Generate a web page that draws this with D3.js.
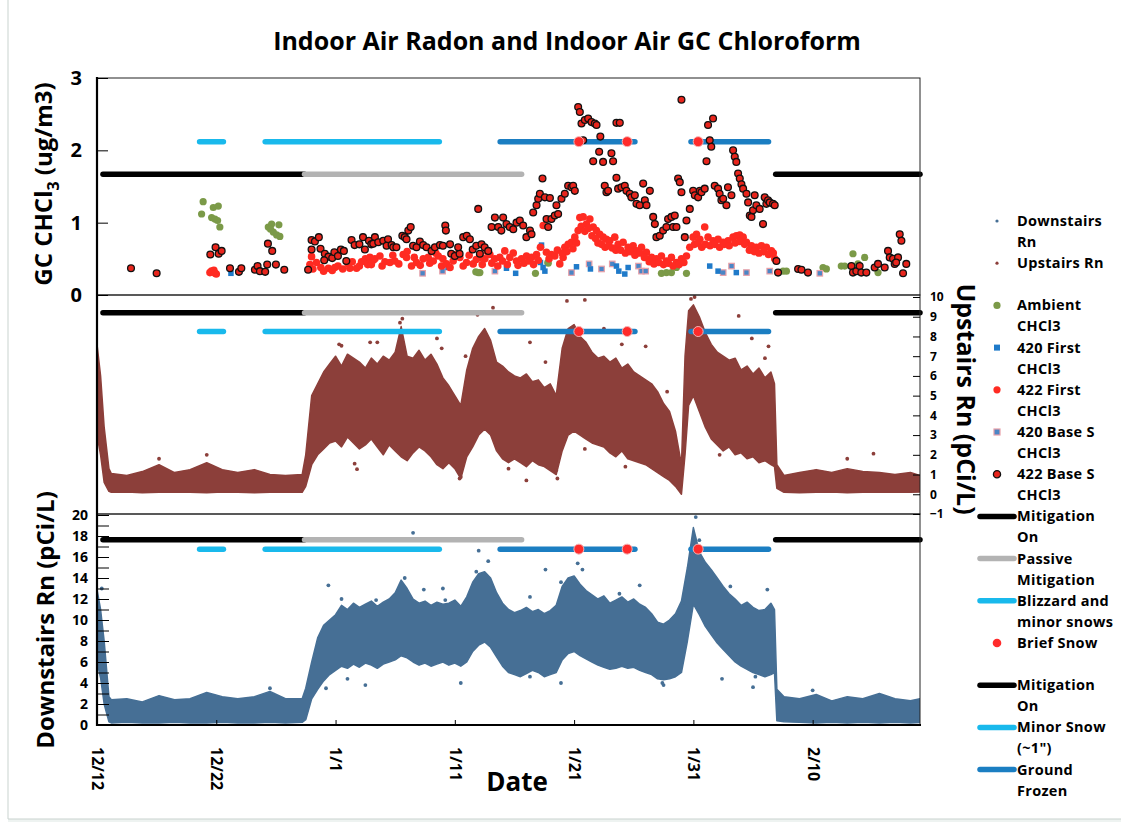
<!DOCTYPE html>
<html lang="en">
<head>
<meta charset="utf-8">
<title>Indoor Air Radon and Indoor Air GC Chloroform</title>
<style>
  body { margin: 0; background: #fff; }
  svg text { font-family: "Open Sans", Carlito, Calibri, Lato, sans-serif; font-weight: bold; fill: #000; }
  .axis path { display: none; }
  .axis line { stroke: #000; stroke-width: 1; }
</style>
</head>
<body>
<div id="chart"></div>
<script src="https://cdn.jsdelivr.net/npm/d3@7"></script>
<script>
var width = 1121, height = 822;

// ---- data: day offsets from 12/12 ----
var xTickDays = [0, 10, 20, 30, 40, 50, 60];

// radon clouds: [day, low, high] of the dense band (pCi/L)
var upstairsRn = [
  [0, 3.0, 7.6], [0.3, 2.0, 6.0], [0.6, 0.6, 3.4], [1.0, 0.15, 1.3], [1.2, 0.1, 1.05],
  [2.5, 0.12, 0.95], [3.8, 0.08, 1.15], [5.2, 0.1, 1.5], [6.5, 0.12, 1.1], [7.8, 0.1, 1.25],
  [9.2, 0.08, 1.6], [10.5, 0.12, 1.25], [11.8, 0.1, 1.1], [13.2, 0.08, 1.25], [14.5, 0.1, 1.0],
  [15.8, 0.12, 0.95], [17.2, 0.1, 1.0], [17.5, 0.4, 2.0], [18.0, 1.5, 5.0], [18.5, 2.0, 5.6],
  [19.0, 2.3, 6.2], [19.5, 2.6, 6.6], [20.0, 2.7, 7.0], [20.5, 2.4, 6.5], [21.0, 2.9, 7.1],
  [21.5, 2.6, 6.9], [22.0, 2.3, 6.7], [22.5, 2.5, 6.4], [23.0, 2.8, 6.9], [23.5, 2.4, 6.6],
  [24.0, 2.0, 7.0], [24.5, 2.5, 6.8], [25.0, 2.2, 7.2], [25.5, 1.9, 8.5], [26.0, 1.7, 7.0],
  [26.5, 2.1, 6.9], [27.0, 2.4, 7.3], [27.5, 2.2, 6.8], [28.0, 1.9, 7.1], [28.5, 1.5, 6.6],
  [29.0, 1.3, 5.9], [29.5, 1.6, 5.5], [30.0, 1.3, 5.0], [30.5, 0.8, 4.5], [31.0, 1.9, 6.3],
  [31.5, 2.4, 7.4], [32.0, 3.0, 8.0], [32.5, 3.3, 8.4], [33.0, 3.0, 7.8], [33.5, 2.2, 6.7],
  [34.0, 1.8, 6.5], [34.5, 1.6, 6.2], [35.0, 1.8, 6.0], [35.5, 1.6, 5.9], [36.0, 1.4, 6.1],
  [36.5, 1.7, 5.7], [37.0, 1.5, 5.8], [37.5, 1.4, 5.4], [38.0, 1.2, 5.6], [38.5, 1.0, 5.0],
  [39.0, 2.2, 7.4], [39.5, 3.0, 8.4], [40.0, 3.2, 8.6], [40.5, 3.0, 8.0], [41.0, 2.8, 7.7],
  [41.5, 2.6, 7.2], [42.0, 2.5, 6.9], [42.5, 2.4, 7.0], [43.0, 2.1, 6.7], [43.5, 1.9, 6.9],
  [44.0, 2.2, 6.4], [44.5, 1.8, 6.6], [45.0, 1.7, 6.2], [45.5, 1.6, 6.0], [46.0, 1.5, 5.8],
  [46.5, 1.3, 5.6], [47.0, 1.1, 5.2], [47.5, 0.9, 4.6], [48.0, 0.7, 4.2], [48.5, 0.4, 3.2],
  [49.0, 0.0, 1.5], [49.3, 2.0, 7.0], [49.6, 4.5, 9.3], [50.0, 5.0, 9.6], [50.5, 4.2, 9.0],
  [51.0, 3.4, 8.2], [51.5, 2.8, 7.6], [52.0, 2.5, 7.2], [52.5, 2.2, 7.0], [53.0, 2.4, 6.8],
  [53.5, 2.0, 6.9], [54.0, 2.1, 6.3], [54.5, 1.8, 6.5], [55.0, 1.9, 6.1], [55.5, 1.6, 6.4],
  [56.0, 1.7, 5.9], [56.5, 1.5, 6.2], [56.8, 1.4, 5.6], [57.0, 0.3, 1.5], [57.6, 0.1, 0.95],
  [58.9, 0.08, 1.1], [60.3, 0.1, 1.25], [61.6, 0.12, 1.1], [62.9, 0.08, 1.3], [64.2, 0.1, 1.15],
  [65.6, 0.12, 1.1], [66.9, 0.1, 1.0], [68.2, 0.1, 1.1], [69.0, 0.12, 0.95]
];
var upstairsOut = [
  [33.2, 9.46], [31.9, 9.1], [39.4, 9.8], [40.9, 9.85], [18.2, 4.75], [21.8, 1.27], [30.4, 0.8],
  [38.6, 0.8], [53.8, 9.04], [62.9, 1.8], [65.1, 2.06], [5.2, 1.8], [9.2, 2.0], [25.6, 8.9],
  [50.1, 10.0], [20.3, 7.6], [23.5, 7.7], [44.0, 7.6], [56.0, 6.9], [28.5, 7.9], [36.0, 0.7],
  [20.5, 7.53], [19.2, 6.0], [22.9, 7.7], [25.4, 8.7], [28.9, 7.4], [30.9, 7.0], [36.3, 7.7],
  [37.6, 6.7], [42.5, 8.4], [46.0, 7.5], [47.8, 5.2], [54.9, 7.9], [56.3, 7.5], [21.6, 1.55],
  [30.5, 0.88], [34.5, 1.3], [38.5, 1.22], [40.9, 2.3], [44.3, 1.4], [52.2, 2.0], [49.8, 9.9]
];
var downstairsRn = [
  [0, 6.0, 12.9], [0.3, 4.5, 11.0], [0.6, 2.0, 8.0], [1.0, 0.3, 2.7], [1.2, 0.2, 2.4],
  [2.5, 0.25, 2.5], [3.8, 0.2, 2.2], [5.2, 0.2, 2.8], [6.5, 0.25, 2.4], [7.8, 0.2, 2.5],
  [9.2, 0.2, 3.1], [10.5, 0.25, 2.7], [11.8, 0.2, 2.5], [13.2, 0.2, 2.7], [14.5, 0.25, 3.2],
  [15.8, 0.2, 2.5], [17.2, 0.25, 2.5], [17.5, 0.5, 3.5], [18.0, 2.5, 6.0], [18.5, 3.4, 8.3],
  [19.0, 4.2, 9.5], [19.5, 4.8, 10.0], [20.0, 5.2, 10.5], [20.5, 5.6, 11.4], [21.0, 5.4, 11.0],
  [21.5, 5.8, 11.6], [22.0, 5.5, 11.2], [22.5, 5.9, 11.5], [23.0, 5.7, 11.8], [23.5, 5.4, 11.3],
  [24.0, 5.8, 11.7], [24.5, 6.0, 12.0], [25.0, 6.2, 12.6], [25.5, 6.6, 13.8], [26.0, 6.4, 13.0],
  [26.5, 6.0, 12.0], [27.0, 5.7, 11.6], [27.5, 5.9, 11.8], [28.0, 5.6, 11.4], [28.5, 5.8, 11.7],
  [29.0, 6.0, 11.5], [29.5, 5.7, 11.6], [30.0, 5.9, 11.9], [30.5, 5.6, 11.3], [31.0, 6.0, 12.2],
  [31.5, 7.0, 13.6], [32.0, 7.6, 14.4], [32.5, 7.9, 14.6], [33.0, 7.4, 14.0], [33.5, 6.5, 12.6],
  [34.0, 5.6, 11.6], [34.5, 5.0, 11.0], [35.0, 4.8, 10.7], [35.5, 4.6, 10.9], [36.0, 4.9, 11.2],
  [36.5, 5.2, 10.8], [37.0, 5.0, 11.0], [37.5, 4.6, 10.6], [38.0, 4.8, 10.9], [38.5, 5.0, 11.4],
  [39.0, 6.2, 13.2], [39.5, 6.8, 14.0], [40.0, 7.0, 14.2], [40.5, 6.6, 13.4], [41.0, 6.3, 12.8],
  [41.5, 6.0, 12.4], [42.0, 5.7, 12.0], [42.5, 5.5, 12.3], [43.0, 5.3, 11.6], [43.5, 5.4, 11.9],
  [44.0, 5.6, 12.2], [44.5, 5.4, 11.7], [45.0, 5.5, 12.0], [45.5, 5.2, 11.5], [46.0, 5.0, 11.2],
  [46.5, 4.8, 10.6], [47.0, 4.4, 9.8], [47.5, 4.3, 9.6], [48.0, 4.4, 10.0], [48.5, 4.6, 10.6],
  [49.0, 5.0, 11.8], [49.5, 8.0, 15.0], [50.0, 11.5, 18.8], [50.5, 10.5, 16.5], [51.0, 9.4, 15.5],
  [51.5, 8.6, 14.8], [52.0, 7.8, 14.0], [52.5, 7.2, 13.2], [53.0, 6.6, 12.5], [53.5, 6.0, 12.0],
  [54.0, 5.6, 11.4], [54.5, 5.3, 11.7], [55.0, 5.0, 11.2], [55.5, 4.8, 10.9], [56.0, 4.6, 11.0],
  [56.5, 4.8, 11.6], [56.8, 5.0, 11.0], [57.0, 0.4, 3.4], [57.6, 0.3, 2.7], [58.9, 0.25, 2.5],
  [60.3, 0.2, 2.9], [61.6, 0.25, 2.3], [62.9, 0.2, 2.7], [64.2, 0.25, 2.5], [65.6, 0.2, 3.0],
  [66.9, 0.25, 2.5], [68.2, 0.2, 2.3], [69.0, 0.25, 2.5]
];
var downstairsOut = [
  [26.5, 18.3], [19.4, 13.3], [32.0, 16.6], [32.8, 15.6], [37.6, 14.8], [38.9, 4.0], [40.3, 15.4],
  [45.5, 13.3], [56.2, 12.9], [55.0, 3.6], [52.4, 4.4], [50.2, 19.8], [0.4, 13.0], [14.5, 3.5],
  [21.0, 4.4], [29.0, 13.0], [47.5, 3.8], [60.0, 3.3], [20.5, 12.0], [23.4, 11.9], [25.8, 14.0],
  [27.4, 12.9], [29.2, 11.9], [31.8, 14.6], [36.3, 12.2], [38.9, 13.6], [40.7, 14.8], [43.8, 12.5],
  [49.1, 11.6], [50.5, 17.6], [53.1, 13.2], [19.2, 3.5], [22.5, 3.8], [30.5, 4.0], [36.3, 4.6],
  [47.4, 4.0], [55.2, 4.6]
];

// GC chloroform (ug/m3): [day, value]
var ambient = [
  [8.9, 1.29], [8.77, 1.12], [9.61, 1.07], [9.89, 1.05], [10.11, 1.03], [10.3, 0.94], [9.75, 1.21],
  [10.17, 1.23], [14.36, 0.94], [14.64, 0.98], [15.25, 0.97], [14.78, 0.87], [15.06, 0.83],
  [15.33, 0.81], [14.55, 0.91], [31.76, 0.32], [31.96, 0.31], [36.76, 0.30], [37.8, 0.45],
  [32.1, 0.31], [37.83, 0.44], [47.32, 0.30], [47.74, 0.31], [48.16, 0.31], [48.58, 0.38],
  [49.42, 0.30], [57.52, 0.33], [57.8, 0.33], [60.87, 0.38], [61.15, 0.36], [62.4, 0.40],
  [62.69, 0.40], [63.38, 0.57], [63.8, 0.43], [64.36, 0.52], [65.48, 0.31]
];
var first420 = [
  [11.23, 0.30], [29.44, 0.38], [34.33, 0.37], [35.1, 0.30], [37.27, 0.69], [37.18, 0.45],
  [37.4, 0.38], [37.55, 0.33], [40.2, 0.39], [41.37, 0.36], [43.55, 0.40], [43.75, 0.33],
  [44.25, 0.29], [44.53, 0.38], [51.37, 0.40], [52.07, 0.33], [53.6, 0.31]
];
var first422 = [
  [9.47, 0.31], [9.6, 0.33], [9.8, 0.34], [10.0, 0.29], [9.9, 0.30],
  [17.99, 0.53], [17.85, 0.42], [18.1, 0.36], [18.4, 0.45], [18.77, 0.38], [19.0, 0.33], [19.4, 0.37],
  [19.72, 0.34], [19.94, 0.38], [20.2, 0.40], [20.6, 0.36], [21.06, 0.43], [21.2, 0.37], [21.4, 0.46],
  [21.76, 0.37], [22.0, 0.40], [22.18, 0.46], [22.5, 0.50], [22.7, 0.42], [22.88, 0.52], [23.16, 0.48],
  [23.3, 0.50], [23.72, 0.54], [24.14, 0.46], [24.56, 0.45], [24.97, 0.47], [25.67, 0.56], [25.95, 0.52],
  [26.37, 0.40], [26.79, 0.45], [27.35, 0.50], [27.77, 0.52], [28.19, 0.47], [28.61, 0.54], [28.89, 0.40],
  [29.3, 0.43], [29.86, 0.47], [30.42, 0.52], [30.98, 0.45], [31.54, 0.43], [32.1, 0.52], [32.52, 0.50],
  [32.94, 0.56], [33.35, 0.50], [33.77, 0.52], [34.19, 0.61], [34.61, 0.52], [35.17, 0.47], [35.59, 0.50],
  [36.01, 0.54], [36.43, 0.52], [36.85, 0.56], [37.18, 0.66], [37.41, 0.96], [37.68, 0.59], [38.1, 0.56],
  [38.38, 0.54], [38.8, 0.43], [39.08, 0.52], [39.22, 0.66], [39.5, 0.70], [39.78, 0.73], [40.06, 0.80],
  [40.34, 0.89], [40.48, 1.07], [40.76, 1.08], [41.04, 0.98], [41.32, 1.05], [41.6, 0.94], [41.87, 0.89],
  [42.15, 0.84], [42.43, 0.80], [42.71, 0.77], [42.99, 0.75], [43.41, 0.80], [43.69, 0.70], [44.11, 0.73],
  [44.53, 0.66], [44.95, 0.68], [45.23, 0.61], [45.65, 0.66], [46.06, 0.59], [46.49, 0.52], [46.9, 0.50],
  [47.32, 0.54], [47.74, 0.47], [48.16, 0.52], [48.58, 0.45], [49.0, 0.50], [49.42, 0.54], [49.7, 0.66],
  [49.98, 0.80], [50.26, 0.84], [50.54, 0.77], [50.95, 0.94], [51.23, 0.80], [51.65, 0.75], [52.07, 0.77],
  [52.49, 0.73], [52.91, 0.75], [53.33, 0.80], [53.61, 0.82], [53.89, 0.83], [54.17, 0.80], [54.45, 0.73],
  [54.87, 0.68], [55.28, 0.66], [55.7, 0.68], [56.12, 0.66], [56.54, 0.61], [56.82, 0.50],
  [23.0, 0.42], [23.9, 0.40], [24.8, 0.55], [25.3, 0.43], [26.0, 0.60], [26.6, 0.52], [27.1, 0.41],
  [27.9, 0.44], [28.4, 0.58], [29.0, 0.50], [29.6, 0.38], [30.1, 0.56], [30.7, 0.40], [31.2, 0.55],
  [31.8, 0.49], [32.3, 0.42], [32.7, 0.60], [33.1, 0.44], [33.6, 0.40], [34.0, 0.47], [34.4, 0.42],
  [34.9, 0.58], [35.3, 0.41], [35.8, 0.44], [36.2, 0.47], [36.6, 0.42], [37.0, 0.48], [37.9, 0.50],
  [38.6, 0.62], [39.0, 0.58], [39.4, 0.60], [39.9, 0.64], [40.2, 0.72], [40.6, 0.95], [40.9, 0.88],
  [41.2, 0.92], [41.5, 0.82], [41.8, 0.78], [42.0, 0.72], [42.3, 0.70], [42.6, 0.66], [42.9, 0.68],
  [43.2, 0.65], [43.5, 0.62], [43.9, 0.62], [44.3, 0.58], [44.7, 0.60], [45.1, 0.55], [45.5, 0.58],
  [45.9, 0.52], [46.3, 0.46], [46.7, 0.43], [47.1, 0.45], [47.5, 0.42], [47.9, 0.44], [48.3, 0.40],
  [48.8, 0.42], [49.2, 0.45], [50.1, 0.70], [50.4, 0.72], [50.7, 0.66], [51.0, 0.70], [51.4, 0.68],
  [51.8, 0.70], [52.2, 0.66], [52.6, 0.70], [53.0, 0.68], [53.5, 0.72], [53.9, 0.74], [54.3, 0.70],
  [54.7, 0.62], [55.1, 0.60], [55.5, 0.58], [55.9, 0.60], [56.3, 0.56], [56.7, 0.58]
];
var base420 = [
  [27.3, 0.30], [28.97, 0.33], [33.36, 0.33], [39.78, 0.31], [41.26, 0.43], [42.3, 0.36], [43.2, 0.43],
  [45.4, 0.40], [45.65, 0.33], [46.0, 0.33], [52.5, 0.31], [53.2, 0.40], [54.45, 0.31], [56.4, 0.33],
  [60.6, 0.30]
];
var base422 = [
  [2.85, 0.37], [5.0, 0.30], [9.5, 0.56], [9.94, 0.66], [10.2, 0.57], [10.45, 0.61], [11.15, 0.37],
  [11.9, 0.32], [12.1, 0.37], [13.24, 0.35], [13.46, 0.40], [13.66, 0.33], [14.1, 0.32], [14.27, 0.42],
  [14.33, 0.71], [14.69, 0.61], [15.0, 0.42], [15.7, 0.35], [17.7, 0.35], [17.99, 0.76], [18.27, 0.74],
  [18.6, 0.80], [17.99, 0.63], [18.74, 0.64], [19.1, 0.57], [19.4, 0.53], [19.05, 0.48], [19.72, 0.51],
  [19.9, 0.59], [20.2, 0.54], [20.45, 0.63], [20.7, 0.61], [20.9, 0.47], [21.34, 0.76], [21.6, 0.69],
  [22.0, 0.70], [22.3, 0.80], [22.46, 0.63], [22.8, 0.75], [23.0, 0.70], [23.3, 0.80], [23.16, 0.71],
  [23.58, 0.73], [24.0, 0.75], [24.4, 0.77], [24.28, 0.68], [24.7, 0.69], [24.84, 0.66], [25.1, 0.66],
  [25.6, 0.82], [25.8, 0.80], [26.1, 0.89], [26.3, 0.94], [25.95, 0.77], [26.5, 0.68], [26.79, 0.66],
  [27.07, 0.74], [27.35, 0.69], [27.63, 0.66], [28.05, 0.61], [28.33, 0.66], [28.75, 0.69], [29.0, 0.68],
  [29.2, 0.96], [29.25, 0.89], [29.6, 0.70], [29.7, 0.57], [30.0, 0.54], [30.4, 0.57], [30.28, 0.66],
  [30.7, 0.80], [31.0, 0.82], [31.26, 0.77], [31.5, 0.63], [31.8, 0.68], [31.96, 1.19], [32.1, 0.57],
  [32.24, 0.70], [32.5, 0.66], [32.8, 0.61], [33.08, 0.94], [33.36, 1.07], [33.64, 0.94], [33.9, 0.89],
  [34.05, 1.07], [34.33, 0.98], [34.6, 0.94], [34.9, 0.91], [35.17, 1.00], [35.45, 1.03], [35.73, 0.96],
  [36.0, 0.80], [36.3, 0.89], [36.43, 0.84], [36.57, 1.14], [36.85, 1.24], [36.99, 1.33], [37.13, 1.40],
  [37.35, 1.61], [37.55, 1.35], [37.97, 1.34], [37.69, 1.05], [37.83, 0.94], [38.1, 1.05], [38.38, 1.10],
  [38.52, 1.24], [38.66, 1.12], [38.94, 1.33], [39.22, 1.40], [39.5, 1.51], [39.78, 1.49], [39.92, 1.51],
  [40.06, 1.44], [40.34, 2.60], [40.48, 2.53], [40.62, 2.37], [40.9, 2.42], [41.18, 2.44], [41.46, 2.39],
  [41.74, 2.37], [41.88, 2.35], [43.55, 2.38], [43.83, 2.38], [40.76, 2.14], [42.2, 2.19], [42.1, 1.98],
  [41.6, 1.85], [42.43, 1.84], [43.13, 1.96], [43.27, 1.85], [43.55, 1.62], [42.57, 1.51], [42.71, 1.42],
  [42.85, 1.44], [43.69, 1.47], [43.97, 1.49], [44.25, 1.51], [44.39, 1.44], [44.67, 1.40], [44.8, 1.35],
  [45.09, 1.38], [45.23, 1.26], [45.5, 1.24], [45.79, 1.54], [45.93, 1.31], [46.07, 1.24], [46.35, 1.44],
  [46.63, 1.08], [46.77, 0.98], [46.9, 0.80], [47.18, 0.82], [47.46, 0.89], [47.74, 0.94], [47.88, 1.05],
  [48.16, 1.08], [48.44, 1.10], [48.3, 0.94], [48.58, 0.94], [48.72, 1.61], [48.86, 1.56], [49.0, 1.42],
  [49.28, 0.80], [49.42, 1.03], [49.7, 1.19], [49.0, 2.70], [49.98, 1.44], [50.12, 1.38], [50.4, 1.35],
  [50.54, 1.44], [50.68, 1.42], [50.95, 1.47], [51.23, 2.35], [51.37, 2.14], [51.5, 2.05], [51.65, 2.44],
  [51.1, 1.85], [51.79, 1.51], [52.07, 1.47], [52.2, 1.40], [52.35, 1.31], [52.5, 1.33], [52.77, 1.24],
  [52.9, 1.49], [53.19, 1.38], [53.33, 2.00], [53.47, 1.91], [53.6, 1.84], [53.75, 1.68], [53.89, 1.61],
  [54.03, 1.53], [54.17, 1.47], [54.45, 1.40], [54.59, 1.28], [54.73, 1.10], [54.87, 1.08], [55.0, 1.17],
  [55.14, 1.38], [55.28, 1.24], [55.56, 1.19], [55.84, 0.98], [55.98, 1.35], [56.12, 1.26], [56.26, 1.31],
  [56.4, 1.28], [56.68, 1.26], [56.82, 1.24], [56.96, 0.47], [57.1, 0.31], [58.78, 0.36], [59.06, 0.35],
  [59.61, 0.31], [63.25, 0.40], [63.38, 0.31], [63.66, 0.33], [63.94, 0.40], [64.08, 0.31], [64.5, 0.31],
  [65.2, 0.38], [65.48, 0.43], [66.04, 0.38], [66.32, 0.61], [66.46, 0.52], [66.74, 0.50], [66.88, 0.43],
  [67.16, 0.52], [67.3, 0.84], [67.44, 0.75], [67.58, 0.30], [67.85, 0.43], [67.0, 0.45]
];

// event periods: [start day, end day]
var mitigationOn = [[0.5, 17.4], [56.9, 69]];
var passiveMitigation = [[17.4, 35.6]];
var blizzardSnows = [[8.6, 10.6], [14.1, 28.7]];
var groundFrozen = [[33.8, 45.1], [49.8, 56.3]];
var briefSnow = [40.4, 44.45, 50.4];
// level (in each panel's units) where the event bars sit
var eventLevels = { top: [1.67, 2.12], mid: [9.2, 8.25], bot: [17.65, 16.75] };

// ---- scales ----
function dt(d) { return new Date(Date.UTC(2012, 11, 12) + d * 864e5); }
var x = d3.scaleUtc().domain([dt(0), dt(69)]).range([97, 920]);
var yTop = d3.scaleLinear().domain([0, 3]).range([295, 78]);
var yMid = d3.scaleLinear().domain([-1, 10]).range([514, 297]);
var yBot = d3.scaleLinear().domain([0, 20]).range([725, 515]);

var col = {
  down: "#466f95", up: "#8c3f3a", ambient: "#7b9a48", f420: "#1f7ac9",
  f422: "#ff2b22", b420: "#4a86c6", b422: "#e8251c", mit: "#000", passive: "#b3b3b3",
  bliz: "#19b9ec", frozen: "#1b7ec2", snow: "#ff2b2b"
};

var svg = d3.select("#chart").append("svg").attr("width", width).attr("height", height);

// page border
svg.append("rect").attr("x", 8).attr("y", 819).attr("width", width).attr("height", 10).attr("fill", "#eef3f1");
svg.append("line").attr("x1", 8).attr("x2", 8).attr("y1", 0).attr("y2", 819).attr("stroke", "#c9d3cf");
svg.append("line").attr("x1", 8).attr("x2", width).attr("y1", 819).attr("y2", 819).attr("stroke", "#c9d3cf");

var panels = [
  { id: "top", y0: 78, y1: 295 },
  { id: "mid", y0: 295, y1: 514 },
  { id: "bot", y0: 514, y1: 725 }
];
var defs = svg.append("defs");
panels.forEach(function(p) {
  defs.append("clipPath").attr("id", "clip-" + p.id).append("rect")
    .attr("x", 97).attr("y", p.y0).attr("width", 823).attr("height", p.y1 - p.y0);
});

function rnArea(y) {
  return d3.area().x(function(d) { return x(dt(d[0])); })
    .y0(function(d) { return y(d[1]); }).y1(function(d) { return y(d[2]); });
}
function dots(g, data, y, r, fill, stroke, sw) {
  g.selectAll(null).data(data).join("circle")
    .attr("cx", function(d) { return x(dt(d[0])); }).attr("cy", function(d) { return y(d[1]); })
    .attr("r", r).attr("fill", fill)
    .attr("stroke", stroke || "none").attr("stroke-width", sw || 0);
}
function squares(g, data, y, s, fill, stroke) {
  g.selectAll(null).data(data).join("rect")
    .attr("x", function(d) { return x(dt(d[0])) - s / 2; }).attr("y", function(d) { return y(d[1]) - s / 2; })
    .attr("width", s).attr("height", s).attr("fill", fill)
    .attr("stroke", stroke || "none").attr("stroke-width", stroke ? 1.2 : 0);
}
function events(g, y, lv) {
  function seg(arr, level, color) {
    g.selectAll(null).data(arr).join("line")
      .attr("x1", function(d) { return x(dt(d[0])); }).attr("x2", function(d) { return x(dt(d[1])); })
      .attr("y1", y(level)).attr("y2", y(level))
      .attr("stroke", color).attr("stroke-width", 5.5).attr("stroke-linecap", "round");
  }
  seg(mitigationOn, lv[0], col.mit);
  seg(passiveMitigation, lv[0], col.passive);
  seg(blizzardSnows, lv[1], col.bliz);
  seg(groundFrozen, lv[1], col.frozen);
}
function snowDots(g, y, lv) {
  g.selectAll(null).data(briefSnow).join("circle")
    .attr("cx", function(d) { return x(dt(d)); }).attr("cy", y(lv[1]))
    .attr("r", 5).attr("fill", col.snow).attr("stroke", "#f7b3b3").attr("stroke-width", 1);
}

// ---- top panel: GC chloroform ----
var gTop = svg.append("g");
events(gTop, yTop, eventLevels.top);
var gTopData = gTop.append("g").attr("clip-path", "url(#clip-top)");
dots(gTopData, ambient, yTop, 3.6, col.ambient);
squares(gTopData, base420, yTop, 5.5, col.b420, "#e8a0a8");
squares(gTopData, first420, yTop, 5.5, col.f420);
dots(gTopData, first422, yTop, 3.8, col.f422);
dots(gTopData, base422, yTop, 3.4, col.b422, "#111", 1.3);
snowDots(gTop, yTop, eventLevels.top);

// ---- middle panel: upstairs radon ----
var gMid = svg.append("g");
var gMidData = gMid.append("g").attr("clip-path", "url(#clip-mid)");
gMidData.append("path").datum(upstairsRn).attr("d", rnArea(yMid)).attr("fill", col.up)
  .attr("stroke", col.up).attr("stroke-width", 1.5).attr("stroke-linejoin", "round");
dots(gMidData, upstairsOut, yMid, 1.9, col.up);
events(gMid, yMid, eventLevels.mid);
snowDots(gMid, yMid, eventLevels.mid);

// ---- bottom panel: downstairs radon ----
var gBot = svg.append("g");
var gBotData = gBot.append("g").attr("clip-path", "url(#clip-bot)");
gBotData.append("path").datum(downstairsRn).attr("d", rnArea(yBot)).attr("fill", col.down)
  .attr("stroke", col.down).attr("stroke-width", 1.5).attr("stroke-linejoin", "round");
dots(gBotData, downstairsOut, yBot, 1.9, col.down);
events(gBot, yBot, eventLevels.bot);
snowDots(gBot, yBot, eventLevels.bot);

// ---- frames ----
panels.forEach(function(p) {
  svg.append("rect").attr("x", 97).attr("y", p.y0).attr("width", 823).attr("height", p.y1 - p.y0)
    .attr("fill", "none").attr("stroke", "#222").attr("stroke-width", 1);
});
svg.append("line").attr("x1", 97).attr("x2", 97).attr("y1", 77).attr("y2", 726)
  .attr("stroke", "#000").attr("stroke-width", 2.2);
svg.append("line").attr("x1", 96).attr("x2", 921).attr("y1", 725).attr("y2", 725)
  .attr("stroke", "#000").attr("stroke-width", 2);

// ---- axes ----
var axTop = svg.append("g").attr("class", "axis").attr("transform", "translate(97,0)")
  .call(d3.axisLeft(yTop).tickValues([0, 1, 2, 3]).tickSize(-11).tickPadding(15).tickFormat(d3.format("d")));
axTop.selectAll("text").style("font-size", "20px");

var axBot = svg.append("g").attr("class", "axis").attr("transform", "translate(97,0)")
  .call(d3.axisLeft(yBot).tickValues(d3.range(0, 21)).tickSize(-12).tickPadding(9)
    .tickFormat(function(d) { return d % 2 ? "" : d; }));
axBot.selectAll("text").style("font-size", "14px");

var axRight = svg.append("g").attr("class", "axis").attr("transform", "translate(920,0)")
  .call(d3.axisRight(yMid).tickValues(d3.range(-1, 11)).tickSize(-7).tickPadding(10).tickFormat(d3.format("d")));
axRight.selectAll("text").style("font-size", "12px");

var axX = svg.append("g").attr("class", "axis").attr("transform", "translate(0,725)")
  .call(d3.axisBottom(x).tickValues(xTickDays.map(dt)).tickSize(-5).tickFormat(d3.utcFormat("%-m/%-d")));
axX.selectAll("text").style("font-size", "16px")
  .attr("transform", "rotate(90)").attr("x", 22).attr("y", 0).attr("dy", "0.35em")
  .attr("text-anchor", "start");

// ---- titles ----
svg.append("text").attr("x", 567).attr("y", 50).attr("text-anchor", "middle")
  .style("font-size", "25px").text("Indoor Air Radon and Indoor Air GC Chloroform");

var tl = svg.append("text").attr("transform", "translate(42,184) rotate(-90)")
  .attr("text-anchor", "middle").attr("dominant-baseline", "central").style("font-size", "24px");
tl.append("tspan").text("GC CHCl");
tl.append("tspan").attr("baseline-shift", "sub").style("font-size", "16px").text("3");
tl.append("tspan").text(" (ug/m3)");

svg.append("text").attr("transform", "translate(44,620) rotate(-90)")
  .attr("text-anchor", "middle").attr("dominant-baseline", "central").style("font-size", "24px")
  .text("Downstairs Rn (pCi/L)");
svg.append("text").attr("transform", "translate(967,399) rotate(90)")
  .attr("text-anchor", "middle").attr("dominant-baseline", "central").style("font-size", "25px")
  .text("Upstairs Rn (pCi/L)");
svg.append("text").attr("x", 517).attr("y", 791).attr("text-anchor", "middle")
  .style("font-size", "26px").text("Date");

// ---- legend ----
var legendItems = [
  { lines: ["Downstairs", "Rn"], mark: "tiny", color: col.down },
  { lines: ["Upstairs Rn"], mark: "tiny", color: col.up },
  { lines: ["Ambient", "CHCl3"], mark: "dot", color: col.ambient },
  { lines: ["420 First", "CHCl3"], mark: "square", color: col.f420 },
  { lines: ["422 First", "CHCl3"], mark: "dot", color: col.f422 },
  { lines: ["420 Base S", "CHCl3"], mark: "square", color: col.b420, stroke: "#e8a0a8" },
  { lines: ["422 Base S", "CHCl3"], mark: "dot", color: col.b422, stroke: "#111" },
  { lines: ["Mitigation", "On"], mark: "line", color: col.mit },
  { lines: ["Passive", "Mitigation"], mark: "line", color: col.passive },
  { lines: ["Blizzard and", "minor snows"], mark: "line", color: col.bliz },
  { lines: ["Brief Snow"], mark: "dot", color: col.snow, big: true },
  { lines: ["Mitigation", "On"], mark: "line", color: col.mit },
  { lines: ["Minor Snow", "(~1\")"], mark: "line", color: col.bliz },
  { lines: ["Ground", "Frozen"], mark: "line", color: col.frozen }
];
var lg = svg.append("g");
legendItems.forEach(function(it, i) {
  var yy = 221 + i * 42.2;
  var g = lg.append("g").attr("transform", "translate(0," + yy + ")");
  if (it.mark === "line") {
    g.append("line").attr("x1", 980).attr("x2", 1014).attr("stroke", it.color)
      .attr("stroke-width", 5.5).attr("stroke-linecap", "round");
  } else if (it.mark === "square") {
    g.append("rect").attr("x", 994).attr("y", -3).attr("width", 6).attr("height", 6)
      .attr("fill", it.color).attr("stroke", it.stroke || "none").attr("stroke-width", it.stroke ? 1.2 : 0);
  } else {
    g.append("circle").attr("cx", 997).attr("r", it.mark === "tiny" ? 1.6 : (it.big ? 4.3 : 3.6))
      .attr("fill", it.color).attr("stroke", it.stroke || "none").attr("stroke-width", it.stroke ? 1.3 : 0);
  }
  it.lines.forEach(function(t, j) {
    g.append("text").attr("x", 1017).attr("y", j * 21).attr("dy", "0.35em")
      .style("font-size", "14.5px").style("letter-spacing", "0.3px").text(t);
  });
});
</script>
</body>
</html>
